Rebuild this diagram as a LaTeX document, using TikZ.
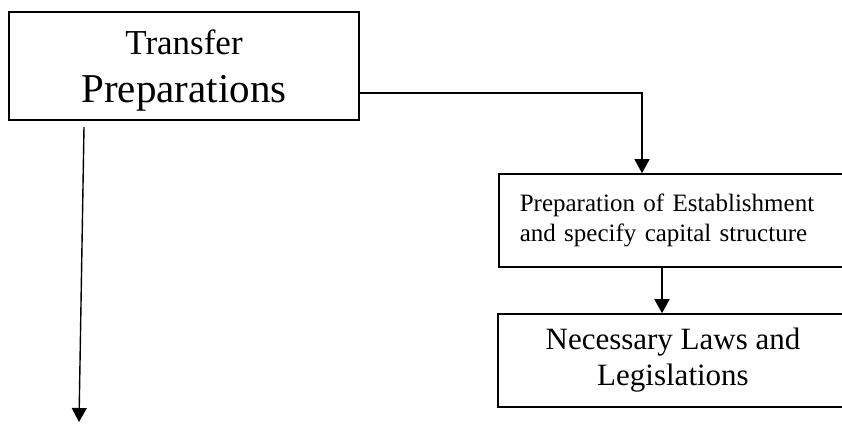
\documentclass[tikz,border=0pt]{standalone}
\usepackage{fontspec}
\setmainfont{Liberation Serif}
\usetikzlibrary{arrows.meta,positioning}
\begin{document}
\begin{tikzpicture}[x=1pt,y=-1pt]
            \tikzset{
                box/.style={draw,line width=1.6pt,inner sep=0pt},
                link/.style={line width=1.4pt,-{Triangle[width=15pt,length=14pt]}},}
            \clip (0,0) rectangle (842,423);
            \node [box,minimum width=350,minimum height=108,align=center,font=\fontsize{41}{48}\selectfont] (tp) at (184,66)
                {{\fontsize{35}{48}\selectfont\rule{0pt}{34pt}Transfer}\\Preparations};
            \node [box,anchor=west,minimum width=380,minimum height=93,inner xsep=21pt,text width=338pt,align=left,font=\fontsize{25}{30}\selectfont] (est) at (498,220.5)
                {Preparation of Establishment\\and specify capital structure};
            \node [box,minimum width=350,minimum height=93,align=center,font=\fontsize{31}{36}\selectfont] (law) at (673,360.5)
                {Necessary Laws and\\Legislations};
            \coordinate (bend) at (642,93);
            \coordinate (dstart) at (84,127);
            \coordinate (dend) at (79,422);
            \draw [link] (tp.east |- bend) -- (bend) -- (bend |- est.north);
            \draw [link] (est.south -| 662,0) -- (law.north -| 662,0);
            \draw [link] (dstart) -- (dend);
            % \draw [dotted] (0,0) grid[step=50] (842,423);
        \end{tikzpicture}
\end{document}
